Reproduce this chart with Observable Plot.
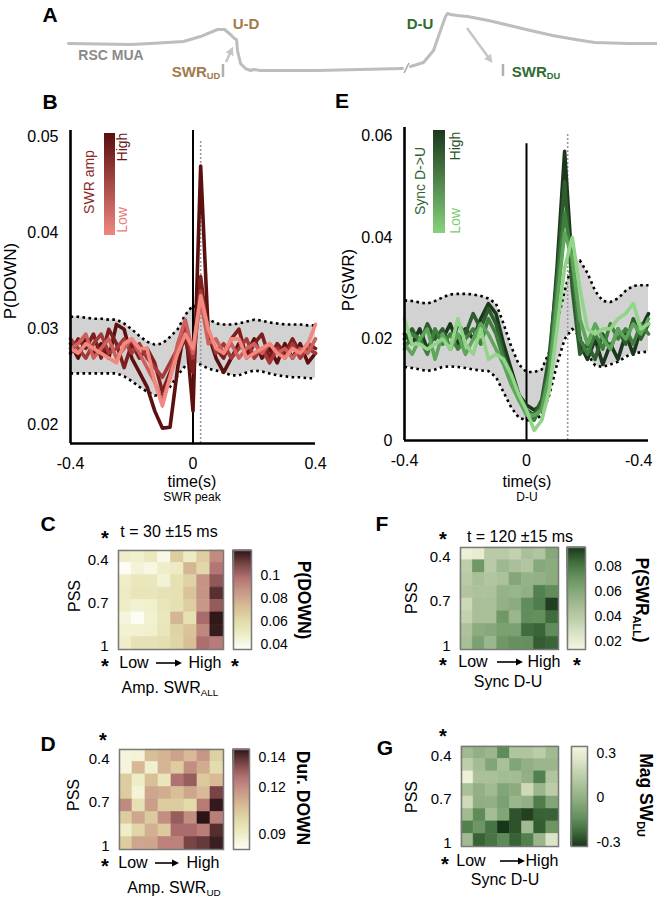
<!DOCTYPE html>
<html><head><meta charset="utf-8">
<script src="https://cdn.jsdelivr.net/npm/d3@7"></script>
<script src="https://cdn.jsdelivr.net/npm/@observablehq/plot@0.6"></script>
<style>
body{margin:0;background:#fff;}
#root{position:relative;width:657px;height:900px;overflow:hidden;font-family:"Liberation Sans",Arial,sans-serif;background:#fff;}
.t{position:absolute;white-space:nowrap;line-height:1;}
.t sub{font-size:0.62em;vertical-align:-0.28em;line-height:0;}
</style></head><body><div id="root"></div>
<script>
// ---------------- DATA ----------------
// Panel A: schematic RSC MUA trace (two segments around the axis break)
const muaT1 = [0,32,62,82,115,132,149,156,162,166,168,169,172,177,182,185,192,249,334];
const muaV1 = [0.466,0.457,0.448,0.466,0.500,0.586,0.707,0.707,0.621,0.552,0.534,0.345,0.121,0.034,0,0.017,0,0,0.034];
const muaT2 = [342,355,365,372,377,379,382,389,399,420,441,462,484,507,526,560,589];
const muaV2 = [0.069,0.138,0.345,0.690,0.931,0.983,0.966,0.948,0.931,0.862,0.776,0.690,0.603,0.534,0.483,0.466,0.466];

// Panels B / E time bins (s)
const timeBins = [-0.4,-0.375,-0.35,-0.325,-0.3,-0.275,-0.25,-0.225,-0.2,-0.175,-0.15,-0.125,-0.1,-0.075,-0.05,-0.025,0,0.025,0.05,0.075,0.1,0.125,0.15,0.175,0.2,0.225,0.25,0.275,0.3,0.325,0.35,0.375,0.4];

// Panel B: P(DOWN) by SWR amplitude quintile (high -> low)
const ampQ5 = [0.0285,0.0270,0.0290,0.0275,0.0285,0.0270,0.0305,0.0300,0.0270,0.0255,0.0240,0.0215,0.0197,0.0198,0.0260,0.0305,0.0215,0.0470,0.0295,0.0270,0.0255,0.0270,0.0285,0.0275,0.0290,0.0270,0.0280,0.0265,0.0285,0.0270,0.0285,0.0265,0.0275];
const ampQ4 = [0.0275,0.0290,0.0280,0.0295,0.0270,0.0300,0.0285,0.0260,0.0285,0.0270,0.0280,0.0265,0.0235,0.0255,0.0275,0.0290,0.0255,0.0355,0.0290,0.0280,0.0270,0.0290,0.0300,0.0270,0.0285,0.0295,0.0270,0.0285,0.0275,0.0290,0.0275,0.0285,0.0280];
const ampQ3 = [0.0290,0.0280,0.0270,0.0285,0.0295,0.0275,0.0280,0.0290,0.0275,0.0285,0.0270,0.0260,0.0250,0.0265,0.0280,0.0300,0.0270,0.0340,0.0300,0.0275,0.0285,0.0270,0.0280,0.0290,0.0270,0.0280,0.0265,0.0280,0.0270,0.0285,0.0270,0.0280,0.0275];
const ampQ2 = [0.0280,0.0285,0.0295,0.0270,0.0280,0.0290,0.0270,0.0280,0.0290,0.0275,0.0260,0.0245,0.0225,0.0250,0.0285,0.0310,0.0275,0.0330,0.0285,0.0290,0.0275,0.0285,0.0270,0.0280,0.0285,0.0275,0.0285,0.0275,0.0280,0.0270,0.0280,0.0275,0.0290];
const ampQ1 = [0.0280,0.0275,0.0285,0.0280,0.0275,0.0270,0.0265,0.0285,0.0290,0.0280,0.0280,0.0245,0.0220,0.0250,0.0275,0.0295,0.0280,0.0335,0.0300,0.0280,0.0275,0.0290,0.0290,0.0270,0.0275,0.0280,0.0285,0.0275,0.0270,0.0280,0.0275,0.0285,0.0305];
const bandHiB = [0.0313,0.0313,0.0312,0.0311,0.0311,0.0310,0.0310,0.0306,0.0300,0.0293,0.0287,0.0284,0.0285,0.0292,0.0300,0.0315,0.0325,0.0320,0.0311,0.0306,0.0305,0.0305,0.0306,0.0308,0.0310,0.0309,0.0307,0.0306,0.0305,0.0305,0.0305,0.0304,0.0304];
const bandLoB = [0.0254,0.0254,0.0254,0.0254,0.0254,0.0254,0.0254,0.0251,0.0246,0.0240,0.0235,0.0231,0.0232,0.0240,0.0252,0.0262,0.0266,0.0263,0.0259,0.0257,0.0255,0.0252,0.0252,0.0255,0.0257,0.0256,0.0254,0.0252,0.0251,0.0250,0.0250,0.0249,0.0249];
const colorsB = ["#5c1010","#7e1e1e","#a53838","#cf5e5e","#f2887e"];

// Panel E: P(SWR) by D->U synchrony quintile (high -> low)
const syncQ5 = [0.021,0.019,0.022,0.018,0.021,0.020,0.023,0.019,0.022,0.020,0.024,0.027,0.025,0.019,0.014,0.009,0.007,0.006,0.007,0.015,0.034,0.057,0.034,0.019,0.016,0.020,0.015,0.019,0.016,0.021,0.017,0.022,0.025];
const syncQ4 = [0.020,0.022,0.019,0.023,0.020,0.022,0.018,0.023,0.021,0.025,0.022,0.026,0.023,0.017,0.013,0.009,0.006,0.005,0.008,0.017,0.032,0.051,0.030,0.017,0.019,0.016,0.021,0.018,0.022,0.019,0.024,0.020,0.023];
const syncQ3 = [0.018,0.021,0.020,0.017,0.022,0.019,0.021,0.018,0.020,0.022,0.019,0.024,0.021,0.016,0.012,0.008,0.006,0.004,0.007,0.014,0.030,0.045,0.035,0.020,0.017,0.021,0.018,0.023,0.020,0.022,0.019,0.023,0.021];
const syncQ2 = [0.019,0.017,0.020,0.022,0.016,0.021,0.018,0.021,0.017,0.020,0.023,0.021,0.018,0.015,0.011,0.008,0.005,0.005,0.006,0.013,0.027,0.041,0.036,0.024,0.019,0.023,0.020,0.018,0.022,0.020,0.023,0.021,0.024];
const syncQ1 = [0.024,0.019,0.019,0.018,0.019,0.020,0.018,0.024,0.019,0.017,0.022,0.016,0.017,0.016,0.013,0.009,0.006,0.002,0.004,0.010,0.022,0.034,0.040,0.030,0.022,0.021,0.022,0.022,0.024,0.025,0.027,0.022,0.023];
const bandHiE = [0.0276,0.0275,0.0272,0.0270,0.0275,0.0282,0.0288,0.0289,0.0289,0.0288,0.0285,0.0280,0.0270,0.0230,0.0185,0.0150,0.0135,0.0135,0.0140,0.0175,0.0230,0.0295,0.0350,0.0355,0.0330,0.0295,0.0275,0.0273,0.0280,0.0295,0.0305,0.0306,0.0306];
const bandLoE = [0.0145,0.0143,0.0140,0.0137,0.0140,0.0145,0.0146,0.0145,0.0143,0.0140,0.0138,0.0137,0.0125,0.0095,0.0065,0.0045,0.0040,0.0040,0.0050,0.0090,0.0150,0.0200,0.0220,0.0205,0.0170,0.0148,0.0145,0.0150,0.0155,0.0165,0.0172,0.0174,0.0175];
const colorsE = ["#1c381c","#2e5c2e","#3e7f3e","#5ea65a","#92d488"];

const xTicks = [-0.4, 0, 0.4];
const xTickLabelsB = ["-0.4","0","0.4"];
const xTickLabelsE = ["-0.4","0","-0.4"];
const yTicksB = [0.02,0.03,0.04,0.05];
const yTicksE = [0,0.02,0.04,0.06];

// Heatmaps: rows = PSS (0.4 top -> 1 bottom), cols = bins Low -> High
const pssRows = [0.4,0.486,0.571,0.657,0.743,0.829,0.914,1.0];
const bins = [1,2,3,4,5,6,7,8];
const pssTicks = [0.4,0.7,1];
const heatC = [
 [0.048,0.047,0.052,0.040,0.066,0.050,0.066,0.090],
 [0.036,0.044,0.041,0.048,0.050,0.075,0.062,0.097],
 [0.048,0.053,0.053,0.045,0.057,0.064,0.087,0.105],
 [0.050,0.054,0.054,0.056,0.057,0.070,0.087,0.115],
 [0.049,0.046,0.047,0.054,0.057,0.066,0.086,0.104],
 [0.043,0.036,0.046,0.053,0.075,0.057,0.100,0.121],
 [0.046,0.046,0.047,0.054,0.064,0.070,0.091,0.120],
 [0.048,0.056,0.056,0.058,0.063,0.072,0.099,0.095]];
const heatD = [
 [0.085,0.086,0.107,0.110,0.115,0.108,0.118,0.102],
 [0.085,0.109,0.088,0.110,0.103,0.120,0.112,0.098],
 [0.103,0.090,0.107,0.093,0.127,0.131,0.104,0.108],
 [0.103,0.086,0.114,0.112,0.107,0.114,0.108,0.136],
 [0.121,0.096,0.116,0.103,0.103,0.099,0.125,0.144],
 [0.103,0.114,0.104,0.120,0.131,0.120,0.145,0.124],
 [0.090,0.100,0.111,0.104,0.128,0.128,0.124,0.140],
 [0.103,0.114,0.114,0.123,0.123,0.136,0.138,0.143]];
const heatF = [
 [0.018,0.020,0.040,0.040,0.036,0.046,0.043,0.060],
 [0.038,0.068,0.040,0.051,0.046,0.043,0.060,0.058],
 [0.040,0.047,0.043,0.045,0.061,0.054,0.055,0.058],
 [0.043,0.045,0.045,0.054,0.053,0.056,0.077,0.073],
 [0.032,0.047,0.047,0.055,0.058,0.073,0.078,0.093],
 [0.036,0.047,0.047,0.068,0.052,0.073,0.072,0.083],
 [0.045,0.058,0.060,0.064,0.064,0.083,0.085,0.073],
 [0.047,0.064,0.052,0.068,0.072,0.072,0.087,0.085]];
const heatG = [
 [0.05,0.00,0.03,-0.15,0.10,0.10,0.14,0.05],
 [0.15,0.06,-0.05,0.08,-0.05,0.00,0.03,0.03],
 [0.32,0.08,0.08,0.06,0.06,0.00,-0.18,0.10],
 [0.08,0.00,0.05,-0.05,-0.02,0.20,0.03,0.14],
 [0.20,-0.01,0.00,-0.07,0.03,0.00,-0.19,-0.05],
 [0.05,-0.15,0.06,-0.05,-0.28,-0.31,-0.25,-0.25],
 [-0.18,-0.11,-0.21,-0.33,-0.28,0.05,-0.26,-0.11],
 [0.05,-0.25,-0.21,-0.15,-0.25,-0.18,0.03,0.25]];

const brownRamp = ["#fdfdf6","#efeec8","#e2dbaa","#d8bc96","#c99a88","#b47474","#7a4646","#2a1416"];
const greenRamp = ["#f5f5df","#dde4c8","#c0cfac","#a4bc94","#86a87a","#65905e","#3f6c3c","#1a361a"];

// ---------------- RENDER ----------------
const root = document.getElementById("root");
const FONT = "'Liberation Sans', Arial, Helvetica, sans-serif";
const STYLE = {fontFamily: FONT, fontSize: "16px", color: "#000", background: "transparent", overflow: "visible"};
const DOTS = {stroke: "#000", strokeWidth: 2.6, strokeDasharray: "2.6,3.4", strokeLinecap: "butt"};

function place(svg, x, y) {
  svg.style.position = "absolute";
  svg.style.left = x + "px";
  svg.style.top = y + "px";
  svg.style.maxWidth = "none";
  svg.style.overflow = "visible";
  root.append(svg);
}
function txt(html, x, y, o = {}) {
  const size = o.size || 16;
  const d = document.createElement("div");
  d.className = "t";
  d.innerHTML = html;
  Object.assign(d.style, {
    left: x + "px", top: y + "px", fontSize: size + "px",
    fontWeight: o.weight || "normal", color: o.color || "#000",
    lineHeight: o.lh || "1",
    transform: `translate(-50%,-50%) rotate(${o.rot || 0}deg)`
  });
  root.append(d);
}
const star = (x, y) => txt("*", x, y + 3, {size: 20, weight: "bold", lh: "0.45"});

// Panel A
place(Plot.plot({
  width: 657, height: 90, marginLeft: 68, marginRight: 0, marginTop: 12, marginBottom: 20,
  style: STYLE, x: {domain: [0, 589], axis: null}, y: {domain: [0, 1], axis: null},
  marks: [
    Plot.line(muaT1, {x: muaT1, y: muaV1, stroke: "#bdbdbd", strokeWidth: 3, strokeLinejoin: "round"}),
    Plot.line(muaT2, {x: muaT2, y: muaV2, stroke: "#bdbdbd", strokeWidth: 3, strokeLinejoin: "round"})
  ]
}), 0, 0);

// Panel B
const seriesB = [ampQ5, ampQ4, ampQ3, ampQ2, ampQ1];
const yLoB = 0.0181, yHiB = 0.0507;
place(Plot.plot({
  width: 330, height: 400, marginLeft: 70, marginRight: 15, marginTop: 30, marginBottom: 57,
  style: STYLE,
  x: {domain: [-0.4, 0.4]}, y: {domain: [yLoB, yHiB]},
  marks: [
    Plot.areaY(timeBins, {x: timeBins, y1: bandLoB, y2: bandHiB, fill: "#d2d2d2"}),
    Plot.line(timeBins, {x: timeBins, y: bandHiB, ...DOTS}),
    Plot.line(timeBins, {x: timeBins, y: bandLoB, ...DOTS}),
    Plot.ruleX([0.025], {y1: yLoB, y2: 0.0497, stroke: "#9a9a9a", strokeWidth: 1.6, strokeDasharray: "2,2"}),
    Plot.ruleX([0], {y1: yLoB, y2: yHiB, stroke: "#000", strokeWidth: 2}),
    ...seriesB.map((s, k) => Plot.line(timeBins, {x: timeBins, y: s, stroke: colorsB[k], strokeWidth: 3.6, strokeLinejoin: "round"})),
    Plot.ruleX([-0.4], {stroke: "#000", strokeWidth: 2.6}),
    Plot.ruleY([yLoB], {stroke: "#000", strokeWidth: 2.6}),
    Plot.axisY({ticks: yTicksB, tickSize: 0, tickPadding: 12, tickFormat: d => d.toFixed(2), label: null}),
    Plot.axisX({ticks: xTicks, tickSize: 0, tickPadding: 14, tickFormat: d => xTickLabelsB[xTicks.indexOf(d)], label: null})
  ]
}), 0, 100);

// Panel E
const seriesE = [syncQ5, syncQ4, syncQ3, syncQ2, syncQ1];
const yLoE = 0, yHiE = 0.0617;
place(Plot.plot({
  width: 327, height: 400, marginLeft: 74, marginRight: 9, marginTop: 27, marginBottom: 60,
  style: STYLE,
  x: {domain: [-0.4, 0.4]}, y: {domain: [yLoE, yHiE]},
  marks: [
    Plot.areaY(timeBins, {x: timeBins, y1: bandLoE, y2: bandHiE, fill: "#d2d2d2"}),
    Plot.line(timeBins, {x: timeBins, y: bandHiE, ...DOTS}),
    Plot.line(timeBins, {x: timeBins, y: bandLoE, ...DOTS}),
    Plot.ruleX([0.135], {y1: yLoE, y2: 0.0605, stroke: "#9a9a9a", strokeWidth: 1.6, strokeDasharray: "2,2"}),
    Plot.ruleX([0], {y1: yLoE, y2: 0.0585, stroke: "#000", strokeWidth: 2}),
    ...seriesE.map((s, k) => Plot.line(timeBins, {x: timeBins, y: s, stroke: colorsE[k], strokeWidth: 3.6, strokeLinejoin: "round"})),
    Plot.ruleX([-0.4], {stroke: "#000", strokeWidth: 2.6}),
    Plot.ruleY([yLoE], {stroke: "#000", strokeWidth: 2.6}),
    Plot.axisY({ticks: yTicksE, tickSize: 0, tickPadding: 12, tickFormat: d => d === 0 ? "0" : d.toFixed(2), label: null}),
    Plot.axisX({ticks: xTicks.slice(0, 2), tickSize: 0, tickPadding: 14, tickFormat: d => xTickLabelsE[xTicks.indexOf(d)], label: null}),
    Plot.text([xTicks[2]], {x: d => d, frameAnchor: "bottom", lineAnchor: "top", dy: 14, dx: 4, textAnchor: "end", text: d => xTickLabelsE[xTicks.indexOf(d)]})
  ]
}), 330, 100);

// Heatmaps + colorbars
const half = 0.6 / 14;
function heat(grid, {lo, hi, ramp, reverse = false, x, y, w, h}) {
  const cells = grid.flatMap((row, r) => row.map((v, c) => ({pss: pssRows[r], bin: bins[c], v})));
  const color = {type: "linear", domain: [lo, hi], interpolate: d3.piecewise(d3.interpolateRgb, ramp), reverse};
  place(Plot.plot({
    width: w + 65, height: h + 20, marginLeft: 60, marginRight: 5, marginTop: 10, marginBottom: 10,
    style: {...STYLE, fontSize: "15px"},
    x: {domain: [0.5, 8.5], axis: null},
    y: {domain: [0.4 - half, 1 + half], reverse: true},
    color,
    marks: [
      Plot.rect(cells, {x1: d => d.bin - 0.5, x2: d => d.bin + 0.5, y1: d => d.pss - half, y2: d => d.pss + half, fill: "v", stroke: "v", strokeWidth: 0.6}),
      Plot.frame({stroke: "#7a7a7a", strokeWidth: 1.5}),
      Plot.axisY({ticks: pssTicks, tickSize: 0, tickPadding: 10, dy: 3, label: null, tickFormat: d => String(d)})
    ]
  }), x - 60, y - 10);
}
function colorbar({lo, hi, ramp, reverse = false, ticks, fmt, x, y, w, h}) {
  const n = 100, step = (hi - lo) / n;
  const stops = d3.range(n).map(i => lo + step * i);
  const color = {type: "linear", domain: [lo, hi], interpolate: d3.piecewise(d3.interpolateRgb, ramp), reverse};
  place(Plot.plot({
    width: w + 50, height: h + 20, marginLeft: 0, marginRight: 50, marginTop: 10, marginBottom: 10,
    style: {...STYLE, fontSize: "14px"},
    x: {domain: [0, 1], axis: null}, y: {domain: [lo, hi]},
    color,
    marks: [
      Plot.rect(stops, {x1: 0, x2: 1, y1: d => d, y2: d => Math.min(hi, d + step), fill: d => d, stroke: d => d, strokeWidth: 1}),
      Plot.frame({stroke: "#7a7a7a", strokeWidth: 1.5}),
      Plot.axisY({anchor: "right", ticks, tickSize: 0, tickPadding: 9, tickFormat: fmt, label: null})
    ]
  }), x, y - 10);
}

heat(heatC, {lo: 0.036, hi: 0.122, ramp: brownRamp, x: 118, y: 550, w: 105, h: 99});
colorbar({lo: 0.036, hi: 0.122, ramp: brownRamp, ticks: [0.04, 0.06, 0.08, 0.1], fmt: d => String(+d.toFixed(2)), x: 233, y: 550, w: 18, h: 99});
heat(heatD, {lo: 0.08, hi: 0.145, ramp: brownRamp, x: 119, y: 749, w: 104, h: 100});
colorbar({lo: 0.08, hi: 0.145, ramp: brownRamp, ticks: [0.09, 0.12, 0.14], fmt: d => d.toFixed(2), x: 233, y: 749, w: 16, h: 100});
heat(heatF, {lo: 0.014, hi: 0.095, ramp: greenRamp, x: 460, y: 547, w: 98, h: 102});
colorbar({lo: 0.014, hi: 0.095, ramp: greenRamp, ticks: [0.02, 0.04, 0.06, 0.08], fmt: d => d.toFixed(2), x: 567, y: 547, w: 18, h: 102});
heat(heatG, {lo: -0.33, hi: 0.35, ramp: greenRamp, reverse: true, x: 461, y: 746, w: 97, h: 100});
colorbar({lo: -0.33, hi: 0.35, ramp: greenRamp, reverse: true, ticks: [-0.3, 0, 0.3], fmt: d => d === 0 ? "0" : String(d), x: 571, y: 746, w: 16, h: 100});

// ---------------- Annotations ----------------
const ov = document.createElementNS("http://www.w3.org/2000/svg", "svg");
ov.setAttribute("width", 657); ov.setAttribute("height", 900);
ov.style.cssText = "position:absolute;left:0;top:0;pointer-events:none;";
ov.innerHTML = `
<defs>
 <marker id="ag" viewBox="0 0 10 10" refX="7" refY="5" markerWidth="3.4" markerHeight="3.4" orient="auto"><path d="M0,0L10,5L0,10z" fill="#c6c6c6"/></marker>
 <marker id="ak" viewBox="0 0 10 10" refX="7" refY="5" markerWidth="4.5" markerHeight="4.5" orient="auto"><path d="M0,0L10,5L0,10z" fill="#000"/></marker>
 <linearGradient id="gB" x1="0" y1="0" x2="0" y2="1"><stop offset="0" stop-color="#5a0e0e"/><stop offset="1" stop-color="#f08680"/></linearGradient>
 <linearGradient id="gE" x1="0" y1="0" x2="0" y2="1"><stop offset="0" stop-color="#1c381c"/><stop offset="1" stop-color="#86d27c"/></linearGradient>
</defs>
<line x1="226" y1="62" x2="232" y2="49" stroke="#c6c6c6" stroke-width="2.5" marker-end="url(#ag)"/>
<line x1="223" y1="64" x2="223" y2="77" stroke="#b0b0b0" stroke-width="2.5"/>
<line x1="467" y1="28" x2="491" y2="61" stroke="#c6c6c6" stroke-width="2.5" marker-end="url(#ag)"/>
<line x1="503" y1="64" x2="503" y2="76" stroke="#b0b0b0" stroke-width="2.5"/>
<line x1="404" y1="73" x2="409" y2="63" stroke="#a8a8a8" stroke-width="1.6"/>
<rect x="104" y="133" width="11" height="102" fill="url(#gB)"/>
<rect x="433" y="130" width="12" height="103" fill="url(#gE)"/>
<line x1="156" y1="663" x2="180" y2="663" stroke="#000" stroke-width="1.6" marker-end="url(#ak)"/>
<line x1="155" y1="863" x2="177" y2="863" stroke="#000" stroke-width="1.6" marker-end="url(#ak)"/>
<line x1="497" y1="662" x2="521" y2="662" stroke="#000" stroke-width="1.6" marker-end="url(#ak)"/>
<line x1="500" y1="861" x2="523" y2="861" stroke="#000" stroke-width="1.6" marker-end="url(#ak)"/>
`;
root.append(ov);

// Panel A text
txt("A", 50, 14, {size: 21, weight: "bold"});
txt("RSC MUA", 111, 55, {size: 14, weight: "bold", color: "#8a8a8a"});
txt("U-D", 246, 23, {size: 15, weight: "bold", color: "#a27b4b"});
txt("SWR<sub>UD</sub>", 196, 71, {size: 15, weight: "bold", color: "#a27b4b"});
txt("D-U", 420, 23, {size: 15, weight: "bold", color: "#2d6e30"});
txt("SWR<sub>DU</sub>", 536, 71, {size: 15, weight: "bold", color: "#2d6e30"});

// Panel B text
txt("B", 50, 101, {size: 21, weight: "bold"});
txt("P(DOWN)", 10, 281, {size: 17, rot: -90});
txt("time(s)", 192, 482, {size: 16});
txt("SWR peak", 192, 497, {size: 12});
txt("SWR amp", 89, 182, {size: 14, rot: -90, color: "#8c2a2a"});
txt("High", 122, 147, {size: 14, rot: -90, color: "#6e1616"});
txt("Low", 122, 220, {size: 14, rot: -90, color: "#ee7a72"});

// Panel E text
txt("E", 342, 100, {size: 21, weight: "bold"});
txt("P(SWR)", 348, 280, {size: 17, rot: -90});
txt("time(s)", 527, 482, {size: 16});
txt("D-U", 527, 497, {size: 12});
txt("Sync D-&gt;U", 420, 181, {size: 14, rot: -90, color: "#2f5f2f"});
txt("High", 455, 146, {size: 14, rot: -90, color: "#2a522a"});
txt("Low", 455, 221, {size: 14, rot: -90, color: "#7ccc70"});

// Panel C text
txt("C", 48, 523, {size: 21, weight: "bold"});
star(105, 535);
txt("t = 30 ±15 ms", 169, 532, {size: 16});
txt("PSS", 75, 596, {size: 16, rot: -90});
star(105, 663); txt("Low", 134, 663); txt("High", 205, 663); star(235, 663);
txt("Amp. SWR<sub>ALL</sub>", 170, 688);
txt("P(DOWN)", 303, 600, {size: 17.5, weight: "bold", rot: 90});

// Panel D text
txt("D", 48, 743, {size: 21, weight: "bold"});
star(103, 737);
txt("PSS", 74, 795, {size: 16, rot: -90});
star(105, 863); txt("Low", 133, 863); txt("High", 203, 863);
txt("Amp. SWR<sub>UD</sub>", 174, 888);
txt("Dur. DOWN", 302, 798, {size: 17.5, weight: "bold", rot: 90});

// Panel F text
txt("F", 382, 523, {size: 21, weight: "bold"});
star(443, 536);
txt("t = 120 ±15 ms", 520, 537, {size: 16});
txt("PSS", 412, 598, {size: 16, rot: -90});
star(443, 662); txt("Low", 473, 662); txt("High", 544, 662); star(577, 662);
txt("Sync D-U", 508, 682);
txt("P(SWR<sub>ALL</sub>)", 641, 600, {size: 17.5, weight: "bold", rot: 90});

// Panel G text
txt("G", 385, 747, {size: 21, weight: "bold"});
star(443, 733);
txt("PSS", 412, 797, {size: 16, rot: -90});
star(445, 861); txt("Low", 471, 861); txt("High", 542, 861);
txt("Sync D-U", 505, 880);
txt("Mag SW<sub>DU</sub>", 645, 795, {size: 17.5, weight: "bold", rot: 90});
</script></body></html>
